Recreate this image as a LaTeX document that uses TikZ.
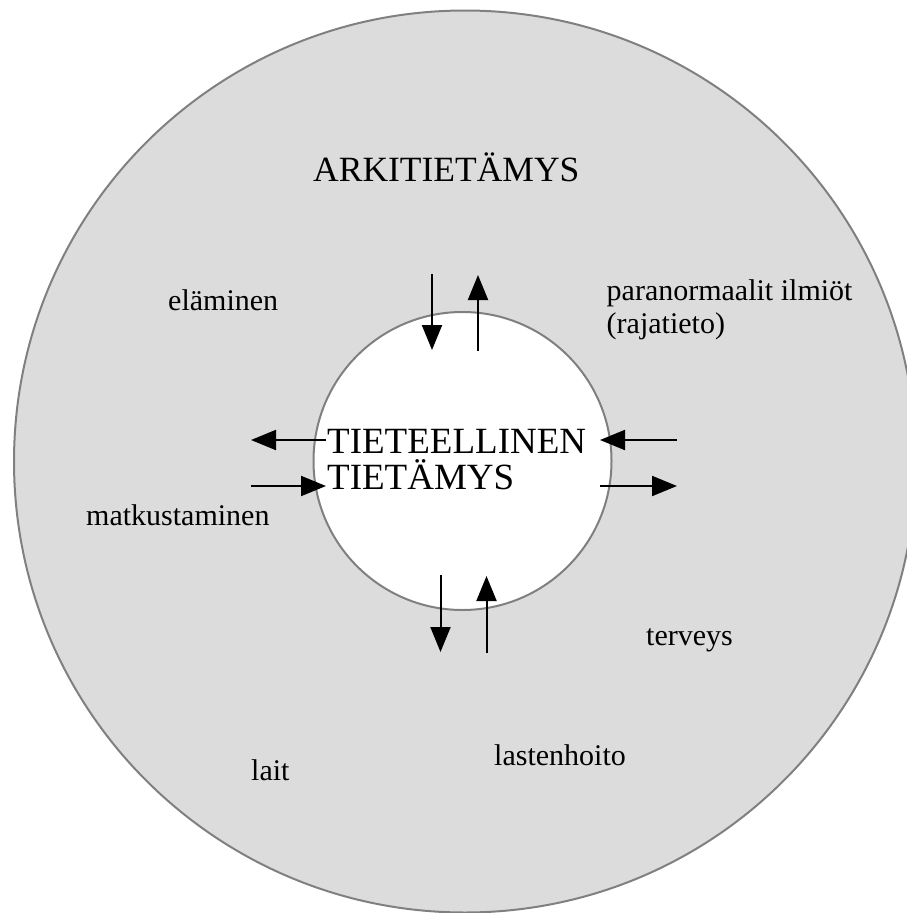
\documentclass[tikz,border=0pt]{standalone}
\usepackage{fontspec}
\setmainfont{Liberation Serif}
\usepackage{xcolor}
\definecolor{KnowFill}{HTML}{DCDCDC}
\definecolor{KnowRing}{HTML}{808080}
\usepackage{tikz}
\usetikzlibrary{arrows.meta}

\begin{document}
\begin{tikzpicture}[x=1pt,y=-1pt,
  ring/.style={circle,draw=KnowRing,line width=2pt,inner sep=0pt},
  topic/.style={anchor=base west,inner sep=0pt,align=left,
    font=\fontsize{30}{33}\selectfont},
  flow/.style={-{Triangle[length=25pt,width=20pt]},line width=2pt}]
\useasboundingbox (0,0) rectangle (906,913);
\node[ring,fill=KnowFill,minimum size=902pt] (everyday) at (465,461.5) {};
\node[ring,fill=white,minimum size=298pt] (science) at (462.5,461) {};
\node[anchor=base west,inner sep=0pt,font=\fontsize{35.5}{36}\selectfont] (arki) at (313,181.5) {ARKITIETÄMYS};
\node[anchor=base west,inner sep=0pt,font=\fontsize{37}{36}\selectfont] (tiet1) at (327,453) {TIETEELLINEN};
\node[anchor=base west,inner sep=0pt,font=\fontsize{37}{36}\selectfont] (tiet2) at (327,489) {TIETÄMYS};
\node[topic] (elam) at (168,310.5) {eläminen};
\node[topic] (para) at (606.5,333.5) {paranormaalit ilmiöt\\(rajatieto)};
\node[topic] (matk) at (86,525) {matkustaminen};
\node[topic] (terv) at (646,645) {terveys};
\node[topic] (lait) at (251,780.5) {lait};
\node[topic] (last) at (494,765) {lastenhoito};
% arrow ends round the inner circle
\coordinate (nIn1) at (432,274);   \coordinate (nIn2) at (432,350);
\coordinate (nOut1) at (478,351);  \coordinate (nOut2) at (478,275);
\coordinate (wOut1) at (326,440);  \coordinate (wOut2) at (251,440);
\coordinate (wIn1) at (251,486);   \coordinate (wIn2) at (326,486);
\coordinate (eIn1) at (677,440);   \coordinate (eIn2) at (600,440);
\coordinate (eOut1) at (600,486);  \coordinate (eOut2) at (677,486);
\coordinate (sOut1) at (440.5,575); \coordinate (sOut2) at (440.5,652);
\coordinate (sIn1) at (486.5,653); \coordinate (sIn2) at (486.5,576);
\draw[flow] (nIn1) -- (nIn2);
\draw[flow] (nOut1) -- (nOut2);
\draw[flow] (wOut1) -- (wOut2);
\draw[flow] (wIn1) -- (wIn2);
\draw[flow] (eIn1) -- (eIn2);
\draw[flow] (eOut1) -- (eOut2);
\draw[flow] (sOut1) -- (sOut2);
\draw[flow] (sIn1) -- (sIn2);
\end{tikzpicture}
\end{document}
